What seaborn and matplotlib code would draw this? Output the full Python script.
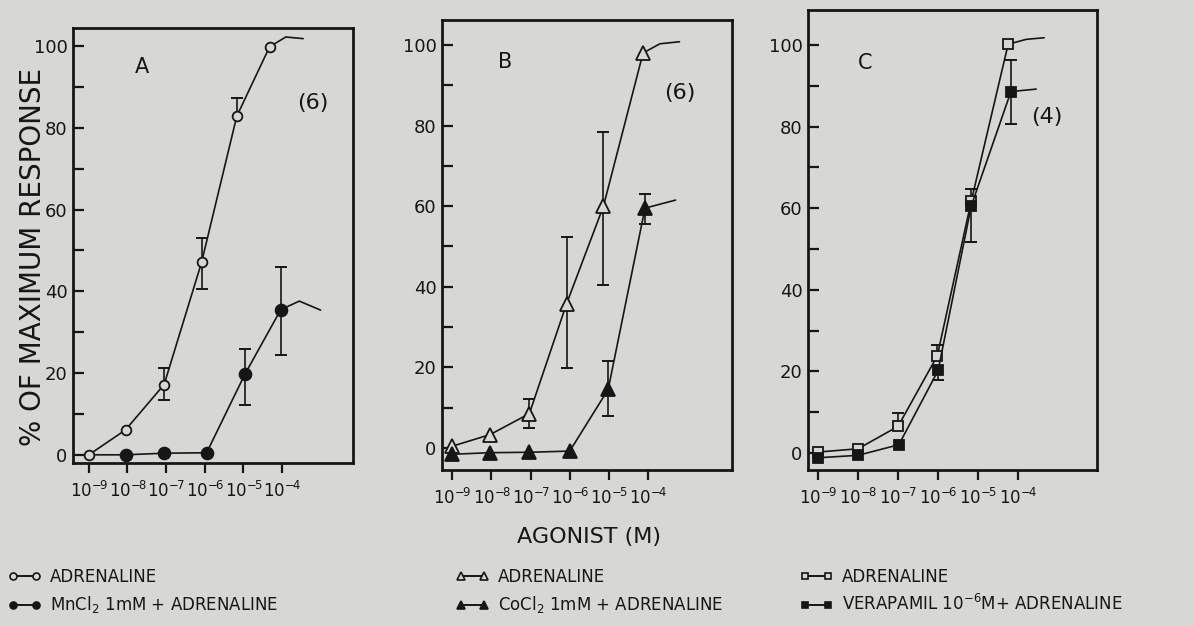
import numpy as np
import pandas as pd
import matplotlib
matplotlib.use("Agg")
import matplotlib.pyplot as plt
from matplotlib.lines import Line2D
from matplotlib.ticker import FixedLocator, FixedFormatter, NullLocator
import seaborn as sns

# ---------------- data (log10 molar concentration, % of max response) ----------------
# Panel A
a_open_logc = [-9.0, -8.05, -7.05, -6.08, -5.17, -4.32]
a_open_resp = [0.0, 6.1, 17.2, 47.1, 82.8, 99.8]
a_open_lo = [0, 0, 3.7, 6.5, 0, 0]
a_open_hi = [0, 0, 4.1, 5.9, 4.5, 0]
a_open_tail_logc = [-3.9, -3.45]
a_open_tail_resp = [102.2, 101.8]

a_fill_logc = [-9.0, -8.05, -7.05, -5.95, -4.96, -4.03]
a_fill_resp = [0.0, 0.0, 0.4, 0.5, 19.7, 35.5]
a_fill_lo = [0, 0, 0, 0, 7.4, 11.2]
a_fill_hi = [0, 0, 0, 0, 6.3, 10.5]
a_fill_tail_logc = [-3.55, -3.0]
a_fill_tail_resp = [37.6, 35.4]

# Panel B
b_open_logc = [-9.0, -8.03, -7.03, -6.08, -5.14, -4.13]
b_open_resp = [0.4, 3.3, 8.5, 35.8, 60.0, 98.0]
b_open_lo = [0, 0, 3.5, 16.0, 19.5, 0]
b_open_hi = [0, 0, 3.7, 16.5, 18.5, 0]
b_open_tail_logc = [-3.7, -3.2]
b_open_tail_resp = [100.3, 100.8]

b_fill_logc = [-9.0, -8.03, -7.03, -6.0, -5.02, -4.08]
b_fill_resp = [-1.6, -1.2, -1.1, -0.8, 14.5, 59.5]
b_fill_lo = [0, 0, 0, 0, 6.5, 4.0]
b_fill_hi = [0, 0, 0, 0, 7.0, 3.5]
b_fill_tail_logc = [-3.3]
b_fill_tail_resp = [61.5]

# Panel C
c_open_logc = [-9.0, -8.0, -7.0, -6.02, -5.17, -4.25]
c_open_resp = [0.2, 1.0, 6.5, 23.8, 61.8, 100.2]
c_open_lo = [0, 0, 0, 0, 0, 0]
c_open_hi = [0, 0, 3.3, 2.7, 3.0, 0]
c_open_tail_logc = [-3.8, -3.35]
c_open_tail_resp = [101.4, 101.8]

c_fill_logc = [-9.0, -8.0, -6.98, -6.0, -5.17, -4.18]
c_fill_resp = [-1.2, -0.6, 2.0, 20.2, 60.6, 88.6]
c_fill_lo = [0, 0, 0, 2.3, 9.0, 8.0]
c_fill_hi = [0, 0, 0, 0, 0, 7.8]
c_fill_tail_logc = [-3.55]
c_fill_tail_resp = [89.2]

x_tick_logc = [-9, -8, -7, -6, -5, -4]
x_tick_labels = [r"$10^{-\!9}$", r"$10^{-\!8}$", r"$10^{-\!7}$",
                 r"$10^{-\!6}$", r"$10^{-\!5}$", r"$10^{-\!4}$"]
y_major = [0, 20, 40, 60, 80, 100]
y_minor = [10, 30, 50, 70, 90]

panel_letters = ["A", "B", "C"]
panel_n = ["(6)", "(6)", "(4)"]

legend_a = ["ADRENALINE", r"MnCl$_2$ 1mM + ADRENALINE"]
legend_b = ["ADRENALINE", r"CoCl$_2$ 1mM + ADRENALINE"]
legend_c = ["ADRENALINE", r"VERAPAMIL 10$^{-6}$M+ ADRENALINE"]

# ---------------- style ----------------
BG = "#d7d7d5"
INK = "#161616"
sns.set_theme(style="ticks")
plt.rcParams["font.family"] = ["DejaVu Sans"]
plt.rcParams["mathtext.default"] = "regular"
plt.rcParams["text.color"] = INK
plt.rcParams["axes.edgecolor"] = INK
plt.rcParams["xtick.color"] = INK
plt.rcParams["ytick.color"] = INK

fig = plt.figure(figsize=(11.94, 6.26), dpi=100, facecolor=BG)

# axes rectangles (figure fractions) and data limits per panel
rects = [
    [73 / 1194, 1 - 463 / 626, 280 / 1194, 435 / 626],
    [442 / 1194, 1 - 470 / 626, 290 / 1194, 450 / 626],
    [808 / 1194, 1 - 470 / 626, 289 / 1194, 460 / 626],
]
xlims = [(-9.41, -2.16), (-9.26, -1.86), (-9.25, -2.03)]
ylims = [(-2.0, 104.4), (-5.5, 106.2), (-4.2, 108.6)]
letter_pos = [(142, 67), (505, 62), (865, 63)]
n_pos = [(313, 103), (680, 93), (1047, 117)]


def draw_series(ax, logc, resp, lo, hi, tail_c, tail_r, marker, ms, filled, skip_first=False):
    df = pd.DataFrame({"conc": 10.0 ** np.array(logc), "resp": resp,
                       "lo": lo, "hi": hi})
    # error bars (only the visible parts)
    up = df[df["hi"] > 0]
    dn = df[df["lo"] > 0]
    ax.vlines(up["conc"], up["resp"], up["resp"] + up["hi"], color=INK, lw=1.2, zorder=2)
    ax.vlines(dn["conc"], dn["resp"] - dn["lo"], dn["resp"], color=INK, lw=1.2, zorder=2)
    ax.plot(up["conc"], up["resp"] + up["hi"], ls="none", marker="_", ms=8, mew=1.4, color=INK, zorder=2)
    ax.plot(dn["conc"], dn["resp"] - dn["lo"], ls="none", marker="_", ms=8, mew=1.4, color=INK, zorder=2)
    # curve tail beyond last point
    tdf = pd.DataFrame({"conc": 10.0 ** np.array([logc[-1]] + list(tail_c)),
                        "resp": [resp[-1]] + list(tail_r)})
    sns.lineplot(data=tdf, x="conc", y="resp", ax=ax, color=INK, lw=1.2,
                 sort=False, estimator=None, zorder=2)
    kws = dict(marker=marker, ms=ms, mfc=INK if filled else BG, mec=INK, mew=1.3)
    if skip_first:
        kws["markevery"] = list(range(1, len(logc)))
    sns.lineplot(data=df, x="conc", y="resp", ax=ax, color=INK, lw=1.2,
                 sort=False, estimator=None, zorder=3, **kws)


series = [
    [  # A
        (a_fill_logc, a_fill_resp, a_fill_lo, a_fill_hi, a_fill_tail_logc, a_fill_tail_resp, "o", 8.5, True, True),
        (a_open_logc, a_open_resp, a_open_lo, a_open_hi, a_open_tail_logc, a_open_tail_resp, "o", 7, False, False),
    ],
    [  # B
        (b_open_logc, b_open_resp, b_open_lo, b_open_hi, b_open_tail_logc, b_open_tail_resp, "^", 10, False, False),
        (b_fill_logc, b_fill_resp, b_fill_lo, b_fill_hi, b_fill_tail_logc, b_fill_tail_resp, "^", 10, True, False),
    ],
    [  # C
        (c_open_logc, c_open_resp, c_open_lo, c_open_hi, c_open_tail_logc, c_open_tail_resp, "s", 7, False, False),
        (c_fill_logc, c_fill_resp, c_fill_lo, c_fill_hi, c_fill_tail_logc, c_fill_tail_resp, "s", 7, True, False),
    ],
]

for i in range(3):
    ax = fig.add_axes(rects[i])
    ax.set_facecolor(BG)
    ax.set_xscale("log")
    for s in series[i]:
        draw_series(ax, *s)
    ax.set_xlim(10 ** xlims[i][0], 10 ** xlims[i][1])
    ax.set_ylim(*ylims[i])
    ax.xaxis.set_major_locator(FixedLocator([10.0 ** v for v in x_tick_logc]))
    ax.xaxis.set_major_formatter(FixedFormatter(x_tick_labels))
    ax.xaxis.set_minor_locator(NullLocator())
    ax.set_yticks(y_major)
    ax.set_yticks(y_minor, minor=True)
    ax.tick_params(axis="x", direction="out", length=7, width=1.6, pad=6, labelsize=12)
    ax.tick_params(axis="y", which="both", direction="in", length=8, width=1.6, pad=4, labelsize=13)
    for sp in ax.spines.values():
        sp.set_linewidth(2.0)
        sp.set_visible(True)
    ax.set_xlabel("")
    ax.set_ylabel("")
    fig.text(letter_pos[i][0] / 1194, 1 - letter_pos[i][1] / 626, panel_letters[i],
             fontsize=15, ha="center", va="center")
    fig.text(n_pos[i][0] / 1194, 1 - n_pos[i][1] / 626, panel_n[i],
             fontsize=16, ha="center", va="center")

fig.text(33 / 1194, 1 - 257 / 626, "% OF MAXIMUM RESPONSE", rotation=90,
         fontsize=20, ha="center", va="center")
fig.text(589 / 1194, 1 - 537 / 626, "AGONIST (M)", fontsize=16, ha="center", va="center")


def legend_handles(marker, ms):
    h_open = Line2D([], [], color=INK, lw=1.4, marker=marker, ms=ms, mfc=BG, mec=INK, mew=1.2)
    h_fill = Line2D([], [], color=INK, lw=1.4, marker=marker, ms=ms, mfc=INK, mec=INK, mew=1.2)
    return [h_open, h_fill]


leg_specs = [
    (legend_handles("o", 5), legend_a, 8),
    (legend_handles("^", 6), legend_b, 456),
    (legend_handles("s", 5), legend_c, 800),
]
for handles, labels, x0 in leg_specs:
    fig.legend(handles, labels, loc="upper left", bbox_to_anchor=(x0 / 1194, 1 - 568 / 626),
               frameon=False, fontsize=12, numpoints=2, handlelength=2.0,
               handletextpad=0.5, labelspacing=0.5, borderaxespad=0, borderpad=0)

fig.savefig("out.png", dpi=100, facecolor=BG)
